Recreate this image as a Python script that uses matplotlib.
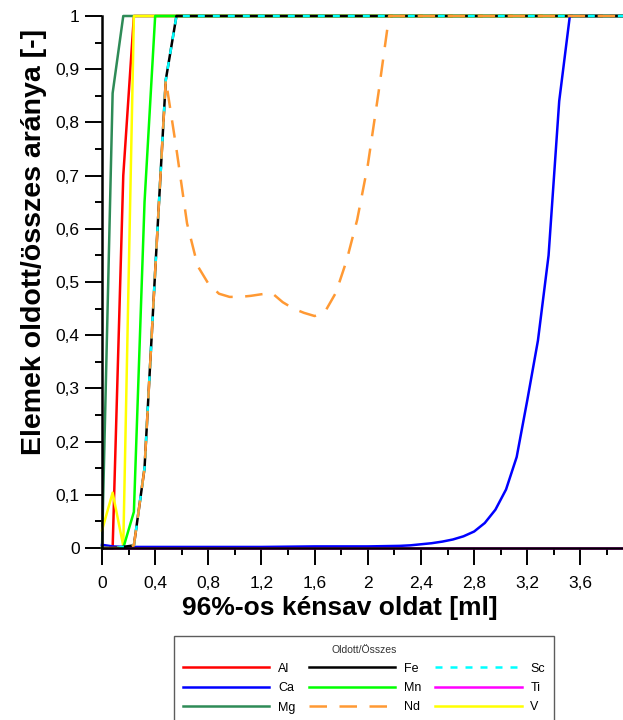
import matplotlib
matplotlib.use("Agg")
import matplotlib.pyplot as plt
from matplotlib.ticker import MultipleLocator, FuncFormatter

plt.rcParams['font.family'] = ['Liberation Sans', 'DejaVu Sans']

# ---- data ----
al_x = [0, 0.08, 0.16, 0.24, 3.92]
al_y = [0, 0, 0.70, 1.0, 1.0]

mg_x = [0, 0.08, 0.16, 3.92]
mg_y = [0, 0.855, 1.0, 1.0]

v_x = [0, 0.08, 0.16, 0.24, 3.92]
v_y = [0.033, 0.104, 0.004, 1.0, 1.0]

mn_x = [0, 0.08, 0.16, 0.24, 0.32, 0.40, 3.92]
mn_y = [0, 0, 0, 0.068, 0.65, 1.0, 1.0]

ca_x = [0, 0.08, 0.16, 0.4, 0.8, 1.2, 1.6, 2.0, 2.24, 2.32, 2.40, 2.48, 2.56,
        2.64, 2.72, 2.80, 2.88, 2.96, 3.04, 3.12, 3.20, 3.28, 3.36, 3.44, 3.52, 3.92]
ca_y = [0.006, 0.003, 0.002, 0.002, 0.002, 0.002, 0.003, 0.003, 0.004, 0.005, 0.007,
        0.009, 0.012, 0.016, 0.022, 0.031, 0.047, 0.072, 0.11, 0.171, 0.278, 0.39,
        0.55, 0.84, 1.0, 1.0]

ti_x = [0, 3.92]
ti_y = [0, 0]

fe_x = [0, 0.08, 0.16, 0.24, 0.32, 0.40, 0.48, 0.56, 3.92]
fe_y = [0, 0, 0.002, 0.005, 0.15, 0.52, 0.88, 1.0, 1.0]

sc_x = [0, 0.08, 0.16, 0.24, 0.32, 0.40, 0.48, 0.56, 3.92]
sc_y = [0, 0, 0.002, 0.005, 0.15, 0.52, 0.88, 1.0, 1.0]

nd_x = [0, 0.08, 0.16, 0.24, 0.32, 0.40, 0.48, 0.56, 0.64, 0.72, 0.80, 0.88, 0.96,
        1.04, 1.12, 1.20, 1.28, 1.36, 1.44, 1.52, 1.60, 1.68, 1.76, 1.84, 1.92,
        2.00, 2.08, 2.16, 3.92]
nd_y = [0, 0, 0, 0.005, 0.15, 0.52, 0.88, 0.75, 0.61, 0.53, 0.497, 0.478, 0.472,
        0.472, 0.474, 0.477, 0.479, 0.462, 0.45, 0.442, 0.436, 0.445, 0.48, 0.54,
        0.617, 0.72, 0.855, 1.0, 1.0]

legend_order = ['Al', 'Ca', 'Mg', 'Fe', 'Mn', 'Nd', 'Sc', 'Ti', 'V']

# ---- figure ----
W, H = 623, 720
fig = plt.figure(figsize=(W / 100, H / 100), dpi=100)
ax = fig.add_axes([102 / W, 1 - 548 / H, (W - 102) / W, (548 - 16) / H])

lw = 1.8
series = [
    ('Al', al_x, al_y, dict(color='#ff0000')),
    ('Mg', mg_x, mg_y, dict(color='#2e8b57')),
    ('V', v_x, v_y, dict(color='#ffff00')),
    ('Mn', mn_x, mn_y, dict(color='#00ff00')),
    ('Ca', ca_x, ca_y, dict(color='#0000ff')),
    ('Ti', ti_x, ti_y, dict(color='#ff00ff')),
    ('Fe', fe_x, fe_y, dict(color='#000000')),
    ('Sc', sc_x, sc_y, dict(color='#00ffff', linestyle=(0, (2.8, 3.2)))),
    ('Nd', nd_x, nd_y, dict(color='#ff9933', linestyle=(0, (7.0, 5.0)))),
]
handles = {}
for name, xs, ys, kw in series:
    ln, = ax.plot(xs, ys, lw=lw, clip_on=False, label=name, **kw)
    handles[name] = ln

ax.set_xlim(0, 3.92)
ax.set_ylim(0, 1)

for s in ['top', 'right']:
    ax.spines[s].set_visible(False)
for s in ['left', 'bottom']:
    ax.spines[s].set_linewidth(1.8)

ax.xaxis.set_major_locator(MultipleLocator(0.4))
ax.xaxis.set_minor_locator(MultipleLocator(0.2))
ax.yaxis.set_major_locator(MultipleLocator(0.1))
ax.yaxis.set_minor_locator(MultipleLocator(0.05))

def fmt(v, pos):
    s = f"{round(v, 2):g}"
    return s.replace('.', ',')

ax.xaxis.set_major_formatter(FuncFormatter(fmt))
ax.yaxis.set_major_formatter(FuncFormatter(fmt))

ax.tick_params(which='major', length=12, width=1.4, labelsize=12.5, direction='out')
ax.tick_params(which='minor', length=5, width=1.4, direction='out')
ax.tick_params(axis='x', which='major', pad=8)
ax.tick_params(axis='y', which='major', pad=4)

ax.set_xlabel('96%-os kénsav oldat [ml]', fontsize=19, fontweight='bold')
ax.xaxis.set_label_coords((340 - 102) / (W - 102), -(608 - 548) / (548 - 16))
ax.xaxis.label.set_va('center')
ax.set_ylabel('Elemek oldott/összes aránya [-]', fontsize=20.5, fontweight='bold')
ax.yaxis.set_label_coords(-(102 - 34) / (W - 102), (548 - 242) / (548 - 16))
ax.yaxis.label.set_va('center')

leg = fig.legend([handles[n] for n in legend_order], legend_order,
                 loc='upper center', bbox_to_anchor=(364 / W, 1 - 630 / H),
                 bbox_transform=fig.transFigure, ncol=3, title='Oldott/Összes',
                 fontsize=9, title_fontsize=7.5, frameon=True, fancybox=False,
                 edgecolor='#333333', handlelength=6.9, handletextpad=0.7,
                 columnspacing=1.1, labelspacing=0.6, borderpad=0.7)
leg.get_frame().set_linewidth(1.0)
leg.get_title().set_color('#333333')

fig.savefig('out.png', dpi=100)
